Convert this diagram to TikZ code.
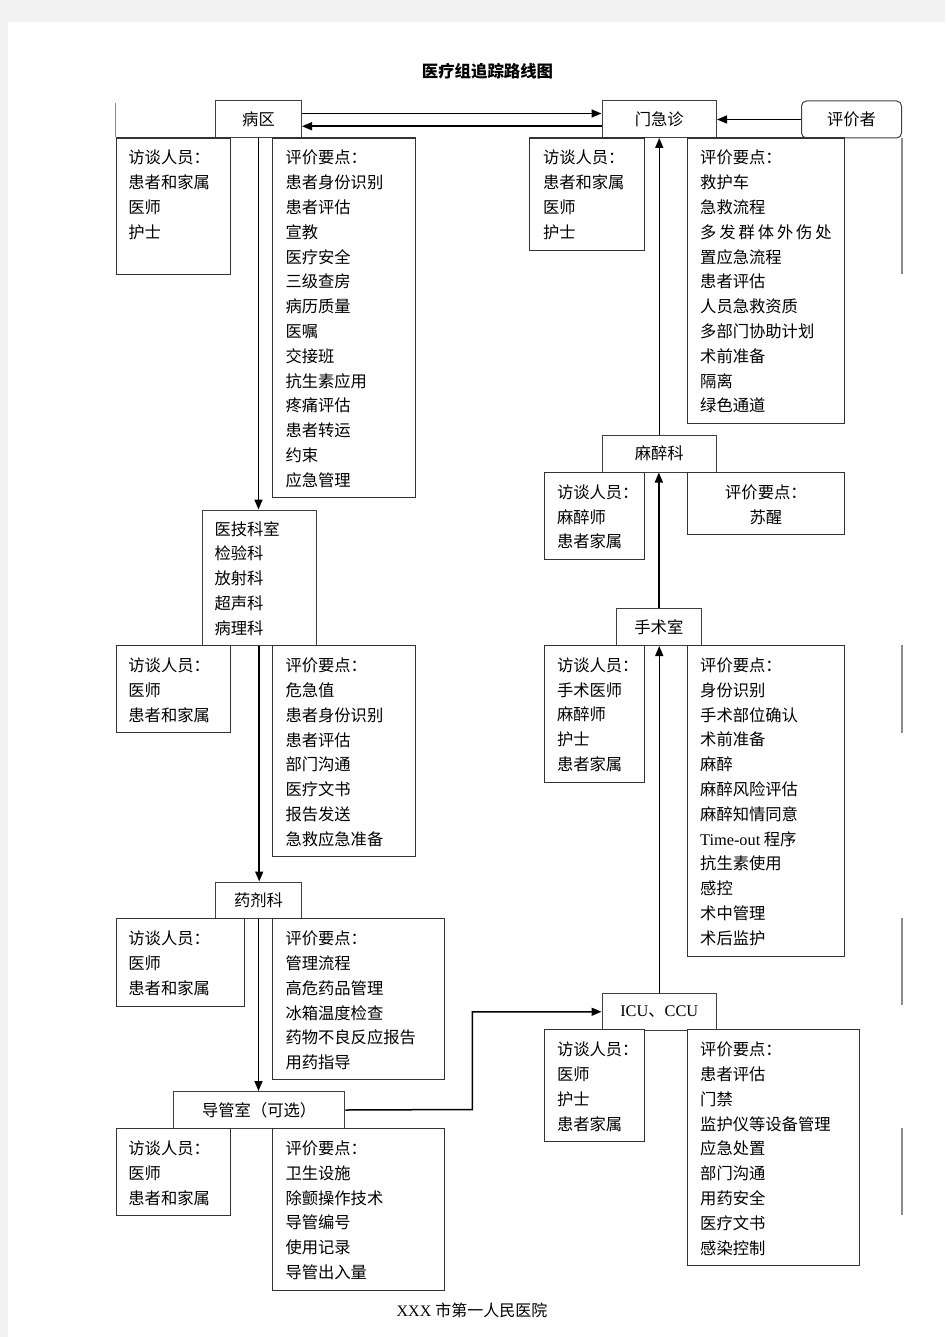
\documentclass[tikz,border=0pt]{standalone}
\usepackage{fontspec}
\setmainfont{Liberation Serif}
\newfontfamily\cjk{Noto Sans CJK SC}
\usetikzlibrary{arrows.meta,positioning}

\tikzset{
	hbox/.style={draw=black!75, line width=1pt, fill=white, anchor=north west, inner sep=0pt, font=\cjk\fontsize{16.3}{20}\selectfont},
	dbox/.style={draw=black!80, line width=1.1pt, fill=white, anchor=north west, inner sep=0pt},
	items/.style={anchor=north west, align=left, inner sep=0pt, font=\cjk\fontsize{16.3}{24.8}\selectfont},
	arr/.style={line width=1.5pt, -{Triangle[length=10pt,width=8pt]}},
	stray/.style={draw=black!45, line width=1.2pt},
}
\newcommand{\gp}{\hspace{2.9pt}}

\begin{document}
\begin{tikzpicture}[x=1pt,y=-1pt]
			\useasboundingbox (0,0) rectangle (945,1337);
			\fill[black!5] (0,0) rectangle (945,1337);
			\fill[white] (8,22) rectangle (945,1337);

			\node[font=\cjk\bfseries\fontsize{16.4}{20}\selectfont] (title) at (487.5,71) {医疗组追踪路线图};
			\node[font=\fontsize{16}{20}\selectfont] (footer) at (472,1310) {XXX {\cjk 市第一人民医院}};

			% stations
			\node[hbox, minimum width=86pt, minimum height=36.5pt] (ward) at (215,100.5) {病区};
			\node[hbox, minimum width=114.5pt, minimum height=36.5pt] (emerg) at (601.5,100.5) {门急诊};
			\node[hbox, rounded corners=5pt, minimum width=100pt, minimum height=37pt] (assessor) at (801,100.5) {评价者};
			\node[hbox, minimum width=114.5pt, minimum height=36.5pt] (anes) at (601.5,435) {麻醉科};
			\node[hbox, minimum width=85.3pt, minimum height=37pt] (surg) at (615.7,608) {手术室};
			\node[hbox, minimum width=114.5pt, minimum height=36.5pt] (icu) at (601.5,993) {{\rmfamily ICU}、{\rmfamily CCU}};
			\node[hbox, minimum width=114pt, minimum height=135.8pt] (tech) at (201.7,509.5) {};
			\node[hbox, minimum width=86pt, minimum height=36.8pt] (pharm) at (215,881.5) {药剂科};
			\node[hbox, minimum width=171.3pt, minimum height=37pt] (cath) at (173,1091) {导管室（可选）};
			\node[items] (techt) at ([xshift=12.6pt,yshift=-11.5pt]tech.north west) {医技科室\\检验科\\放射科\\超声科\\病理科};

			% ward
			\node[dbox, minimum width=114.3pt, minimum height=136.5pt] (wardL) at (115.7,137.5) {};
			\node[dbox, minimum width=143pt, minimum height=359.5pt] (wardR) at (272.3,137.5) {};
			\node[items] (wardLt) at ([xshift=12.5pt,yshift=-12.5pt]wardL.north west) {访谈人员：\\患者和家属\\医师\\护士};
			\node[items] (wardRt) at ([xshift=13pt,yshift=-12.5pt]wardR.north west) {评价要点：\\患者身份识别\\患者评估\\宣教\\医疗安全\\三级查房\\病历质量\\医嘱\\交接班\\抗生素应用\\疼痛评估\\患者转运\\约束\\应急管理};

			% emergency
			\node[dbox, minimum width=114.7pt, minimum height=112.5pt] (emergL) at (529.3,137.5) {};
			\node[dbox, minimum width=156.7pt, minimum height=285.2pt] (emergR) at (687,137.5) {};
			\node[items] (emergLt) at ([xshift=13.5pt,yshift=-12.5pt]emergL.north west) {访谈人员：\\患者和家属\\医师\\护士};
			\node[items] (emergRt) at ([xshift=13pt,yshift=-12.5pt]emergR.north west) {评价要点：\\救护车\\急救流程\\多\gp 发\gp 群\gp 体\gp 外\gp 伤\gp 处\\置应急流程\\患者评估\\人员急救资质\\多部门协助计划\\术前准备\\隔离\\绿色通道};

			% anaesthesia
			\node[dbox, minimum width=99.7pt, minimum height=86.6pt] (anesL) at (544.3,472) {};
			\node[dbox, minimum width=156.7pt, minimum height=62.3pt] (anesR) at (687,472) {};
			\node[items] (anesLt) at ([xshift=12.5pt,yshift=-12.5pt]anesL.north west) {访谈人员：\\麻醉师\\患者家属};
			\node[items, anchor=north, align=center] (anesRt) at ([yshift=-12.5pt]anesR.north) {评价要点：\\苏醒};

			% surgery
			\node[dbox, minimum width=99.7pt, minimum height=136.8pt] (surgL) at (544.3,645) {};
			\node[dbox, minimum width=156.7pt, minimum height=310.7pt] (surgR) at (687,645) {};
			\node[items] (surgLt) at ([xshift=12.5pt,yshift=-12.5pt]surgL.north west) {访谈人员：\\手术医师\\麻醉师\\护士\\患者家属};
			\node[items] (surgRt) at ([xshift=13pt,yshift=-12.5pt]surgR.north west) {评价要点：\\身份识别\\手术部位确认\\术前准备\\麻醉\\麻醉风险评估\\麻醉知情同意\\{\rmfamily Time-out} 程序\\抗生素使用\\感控\\术中管理\\术后监护};

			% medical technology
			\node[dbox, minimum width=114.3pt, minimum height=87pt] (techL) at (115.7,645.3) {};
			\node[dbox, minimum width=143pt, minimum height=210.7pt] (techR) at (272.3,645.3) {};
			\node[items] (techLt) at ([xshift=12.5pt,yshift=-12.5pt]techL.north west) {访谈人员：\\医师\\患者和家属};
			\node[items] (techRt) at ([xshift=13pt,yshift=-12.5pt]techR.north west) {评价要点：\\危急值\\患者身份识别\\患者评估\\部门沟通\\医疗文书\\报告发送\\急救应急准备};

			% pharmacy
			\node[dbox, minimum width=128.3pt, minimum height=87.4pt] (pharmL) at (115.7,918.3) {};
			\node[dbox, minimum width=171.7pt, minimum height=161pt] (pharmR) at (272.3,918.3) {};
			\node[items] (pharmLt) at ([xshift=12.5pt,yshift=-12.5pt]pharmL.north west) {访谈人员：\\医师\\患者和家属};
			\node[items] (pharmRt) at ([xshift=13pt,yshift=-12.5pt]pharmR.north west) {评价要点：\\管理流程\\高危药品管理\\冰箱温度检查\\药物不良反应报告\\用药指导};

			% catheter lab
			\node[dbox, minimum width=114.3pt, minimum height=87pt] (cathL) at (115.7,1128) {};
			\node[dbox, minimum width=171.7pt, minimum height=162pt] (cathR) at (272.3,1128) {};
			\node[items] (cathLt) at ([xshift=12.5pt,yshift=-12.5pt]cathL.north west) {访谈人员：\\医师\\患者和家属};
			\node[items] (cathRt) at ([xshift=13pt,yshift=-12.5pt]cathR.north west) {评价要点：\\卫生设施\\除颤操作技术\\导管编号\\使用记录\\导管出入量};

			% icu
			\node[dbox, minimum width=99.7pt, minimum height=111.7pt] (icuL) at (544.3,1029.3) {};
			\node[dbox, minimum width=171.7pt, minimum height=235.7pt] (icuR) at (687,1029.3) {};
			\node[items] (icuLt) at ([xshift=12.5pt,yshift=-12.5pt]icuL.north west) {访谈人员：\\医师\\护士\\患者家属};
			\node[items] (icuRt) at ([xshift=13pt,yshift=-12.5pt]icuR.north west) {评价要点：\\患者评估\\门禁\\监护仪等设备管理\\应急处置\\部门沟通\\用药安全\\医疗文书\\感染控制};

			% route
			\draw[arr] ([yshift=5.75pt]ward.east) -- ([yshift=5.75pt]emerg.west);
			\draw[arr] ([yshift=-7pt]emerg.west) -- ([yshift=-7pt]ward.east);
			\draw[arr] (assessor.west) -- (emerg.east |- assessor.west);
			\draw[arr] (ward.south) -- (ward.south |- tech.north);
			\draw[arr] (tech.south) -- (tech.south |- pharm.north);
			\draw[arr] (pharm.south) -- (pharm.south |- cath.north);
			\coordinate (turn) at (472.3,1109.5);
			\draw[arr] (cath.east) -- (turn) |- (icu.west);
			\draw[arr] (icu.north) -- (icu.north |- surg.south);
			\draw[arr] (surg.north) -- (surg.north |- anes.south);
			\draw[arr] (anes.north) -- (anes.north |- emerg.south);

			% stray border bits
			\draw[stray] (902,138) -- (902,274);
			\draw[stray] (902,645) -- (902,732.5);
			\draw[stray] (902,917.5) -- (902,1005);
			\draw[stray] (902,1128) -- (902,1215);
			\draw[stray] (115.5,103) -- (115.5,137);
		\end{tikzpicture}
\end{document}
